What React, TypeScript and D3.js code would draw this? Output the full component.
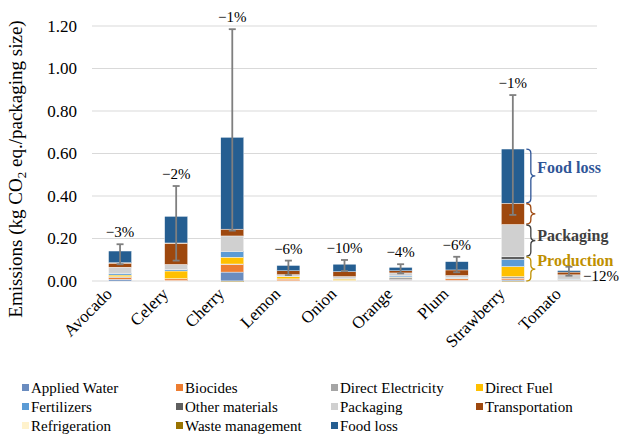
import React from "react";
import * as d3 from "d3";

const categories = ["Avocado", "Celery", "Cherry", "Lemon", "Onion", "Orange", "Plum", "Strawberry", "Tomato"];
const seriesNames = ["Applied Water", "Biocides", "Direct Electricity", "Direct Fuel", "Fertilizers", "Other materials", "Packaging", "Transportation", "Refrigeration", "Waste management", "Food loss"];
const seriesColors = ["#6a8cbf", "#ed7d31", "#a5a5a5", "#ffc000", "#5b9bd5", "#5f5f5f", "#d0d0d0", "#9e480e", "#fff2cc", "#997300", "#255e91"];

const appliedWater = [0.008, 0.002, 0.042, 0.001, 0.001, 0.004, 0.003, 0.005, 0.001];
const biocides = [0.008, 0.008, 0.036, 0.008, 0.001, 0.002, 0.007, 0.008, 0.001];
const directElectricity = [0.004, 0.001, 0.002, 0.001, 0.001, 0.012, 0.002, 0.008, 0.004];
const directFuel = [0.008, 0.036, 0.032, 0.010, 0.006, 0.001, 0.001, 0.047, 0.001];
const fertilizers = [0.008, 0.006, 0.026, 0.001, 0.001, 0.005, 0.004, 0.034, 0.002];
const otherMaterials = [0.001, 0.001, 0.002, 0.000, 0.000, 0.000, 0.000, 0.013, 0.000];
const packaging = [0.028, 0.024, 0.072, 0.009, 0.011, 0.014, 0.009, 0.151, 0.020];
const transportation = [0.019, 0.100, 0.032, 0.018, 0.023, 0.010, 0.026, 0.100, 0.013];
const refrigeration = [0.002, 0.001, 0.000, 0.000, 0.000, 0.000, 0.000, 0.000, 0.000];
const wasteManagement = [0.000, 0.000, -0.003, 0.000, 0.000, 0.000, 0.000, -0.004, 0.000];
const foodLoss = [0.055, 0.125, 0.432, 0.025, 0.035, 0.016, 0.039, 0.255, 0.007];

const errLow = [0.079, 0.096, 0.237, 0.028, 0.047, 0.036, 0.041, 0.311, 0.025];
const errHigh = [0.173, 0.447, 1.185, 0.096, 0.099, 0.079, 0.114, 0.875, 0.067];
const pctLabels = ["−3%", "−2%", "−1%", "−6%", "−10%", "−4%", "−6%", "−1%", "−12%"];
const yTicks = [0, 0.2, 0.4, 0.6, 0.8, 1.0, 1.2];

const seriesValues = [appliedWater, biocides, directElectricity, directFuel, fertilizers, otherMaterials, packaging, transportation, refrigeration, wasteManagement, foodLoss];

const W = 619, H = 435;
const serif = "'Liberation Serif', 'Times New Roman', 'DejaVu Serif', serif";

function bracePath(x0: number, y0: number, y1: number, w: number) {
  const mid = (y0 + y1) / 2;
  const r = Math.min(4, (y1 - y0) / 4);
  const xm = x0 + w / 2;
  return `M${x0},${y0} Q${xm},${y0} ${xm},${y0 + r} L${xm},${mid - r} Q${xm},${mid} ${x0 + w},${mid} Q${xm},${mid} ${xm},${mid + r} L${xm},${y1 - r} Q${xm},${y1} ${x0},${y1}`;
}

export default function App() {
  const x = d3.scaleBand<string>().domain(categories).range([92, 597]).paddingInner(0.59).paddingOuter(0.295);
  const y = d3.scaleLinear().domain([0, 1.2]).range([281, 26]);

  const rows = categories.map((c, i) => {
    const o: any = { cat: c };
    seriesNames.forEach((s, k) => (o[s] = seriesValues[k][i]));
    return o;
  });
  const stacked = d3.stack<any>().keys(seriesNames).offset(d3.stackOffsetDiverging)(rows);

  const bw = x.bandwidth();
  const si = categories.indexOf("Strawberry");
  const sx = (x("Strawberry") as number) + bw;
  const segTop = (k: number) => y(stacked[k][si][1]);
  const segBot = (k: number) => y(stacked[k][si][0]);
  const bx = sx + 2;
  const braces = [
    { y0: segTop(10), y1: segBot(10) - 0.5, color: "#2f5597", label: "Food loss", ly: -8 },
    { y0: segTop(7) + 0.5, y1: segBot(7) - 0.5, color: "#9e480e", label: "", ly: 0 },
    { y0: segTop(6) + 0.5, y1: segBot(6) - 0.5, color: "#404040", label: "Packaging", ly: -5 },
    { y0: segTop(5) + 0.5, y1: y(0), color: "#bf9000", label: "Production", ly: -9 },
  ];

  const txt = { fontFamily: serif };

  return (
    <svg width={W} height={H} style={{ position: "absolute", left: 0, top: 0, background: "#fff" }}>
      {yTicks.map((t) => (
        <g key={t}>
          <line x1={92} x2={597} y1={y(t)} y2={y(t)} stroke="#d9d9d9" strokeWidth={1} />
          <text x={77} y={y(t)} dy="0.35em" textAnchor="end" fontSize={17} fill="#000" style={txt}>{t.toFixed(2)}</text>
        </g>
      ))}
      <text transform={`translate(22,169) rotate(-90)`} textAnchor="middle" fontSize={19} fill="#000" style={txt}>
        Emissions (kg CO<tspan fontSize={13} dy={4}>2</tspan><tspan dy={-4}> eq./packaging size)</tspan>
      </text>
      {stacked.map((layer, k) => (
        <g key={seriesNames[k]} fill={seriesColors[k]}>
          {layer.map((d, i) => {
            const y0 = y(d[0]), y1 = y(d[1]);
            const h = Math.abs(y0 - y1);
            if (h <= 0) return null;
            return <rect key={i} x={x(categories[i])} y={Math.min(y0, y1)} width={bw} height={h} stroke="#fff" strokeWidth={0.4} />;
          })}
        </g>
      ))}
      {categories.map((c, i) => {
        const cx = (x(c) as number) + bw / 2;
        return (
          <g key={c} stroke="#7f7f7f" strokeWidth={1.8}>
            <line x1={cx} x2={cx} y1={y(errLow[i])} y2={y(errHigh[i])} />
            <line x1={cx - 3.5} x2={cx + 3.5} y1={y(errLow[i])} y2={y(errLow[i])} />
            <line x1={cx - 3.5} x2={cx + 3.5} y1={y(errHigh[i])} y2={y(errHigh[i])} />
          </g>
        );
      })}
      {categories.map((c, i) => {
        const cx = (x(c) as number) + bw / 2;
        if (c === "Tomato") {
          return <text key={c} x={cx + 14} y={276} dy="0.35em" fontSize={15} fill="#000" style={txt}>{pctLabels[i]}</text>;
        }
        return <text key={c} x={cx} y={y(errHigh[i]) - 7} textAnchor="middle" fontSize={15} fill="#000" style={txt}>{pctLabels[i]}</text>;
      })}
      {categories.map((c) => {
        const cx = (x(c) as number) + bw / 2;
        return (
          <text key={c} transform={`translate(${cx - 7},${295}) rotate(-45)`} textAnchor="end" fontSize={17} fill="#000" style={txt}>{c}</text>
        );
      })}
      {braces.map((b, i) => (
        <g key={i}>
          <path d={bracePath(bx, b.y0, b.y1, 9)} fill="none" stroke={b.color} strokeWidth={1.3} />
          {b.label && (
            <text x={bx + 11} y={(b.y0 + b.y1) / 2 + b.ly} dy="0.35em" fontSize={16} fontWeight="bold" fill={b.color} style={txt}>{b.label}</text>
          )}
        </g>
      ))}
      {seriesNames.map((s, k) => {
        const col = k % 4, row = Math.floor(k / 4);
        const colX = [22, 176, 331, 476][col];
        const yy = 388 + row * 19;
        return (
          <g key={s}>
            <rect x={colX} y={yy - 4} width={7} height={7} fill={seriesColors[k]} />
            <text x={colX + 9} y={yy} dy="0.35em" fontSize={15} fill="#000" style={txt}>{s}</text>
          </g>
        );
      })}
    </svg>
  );
}
